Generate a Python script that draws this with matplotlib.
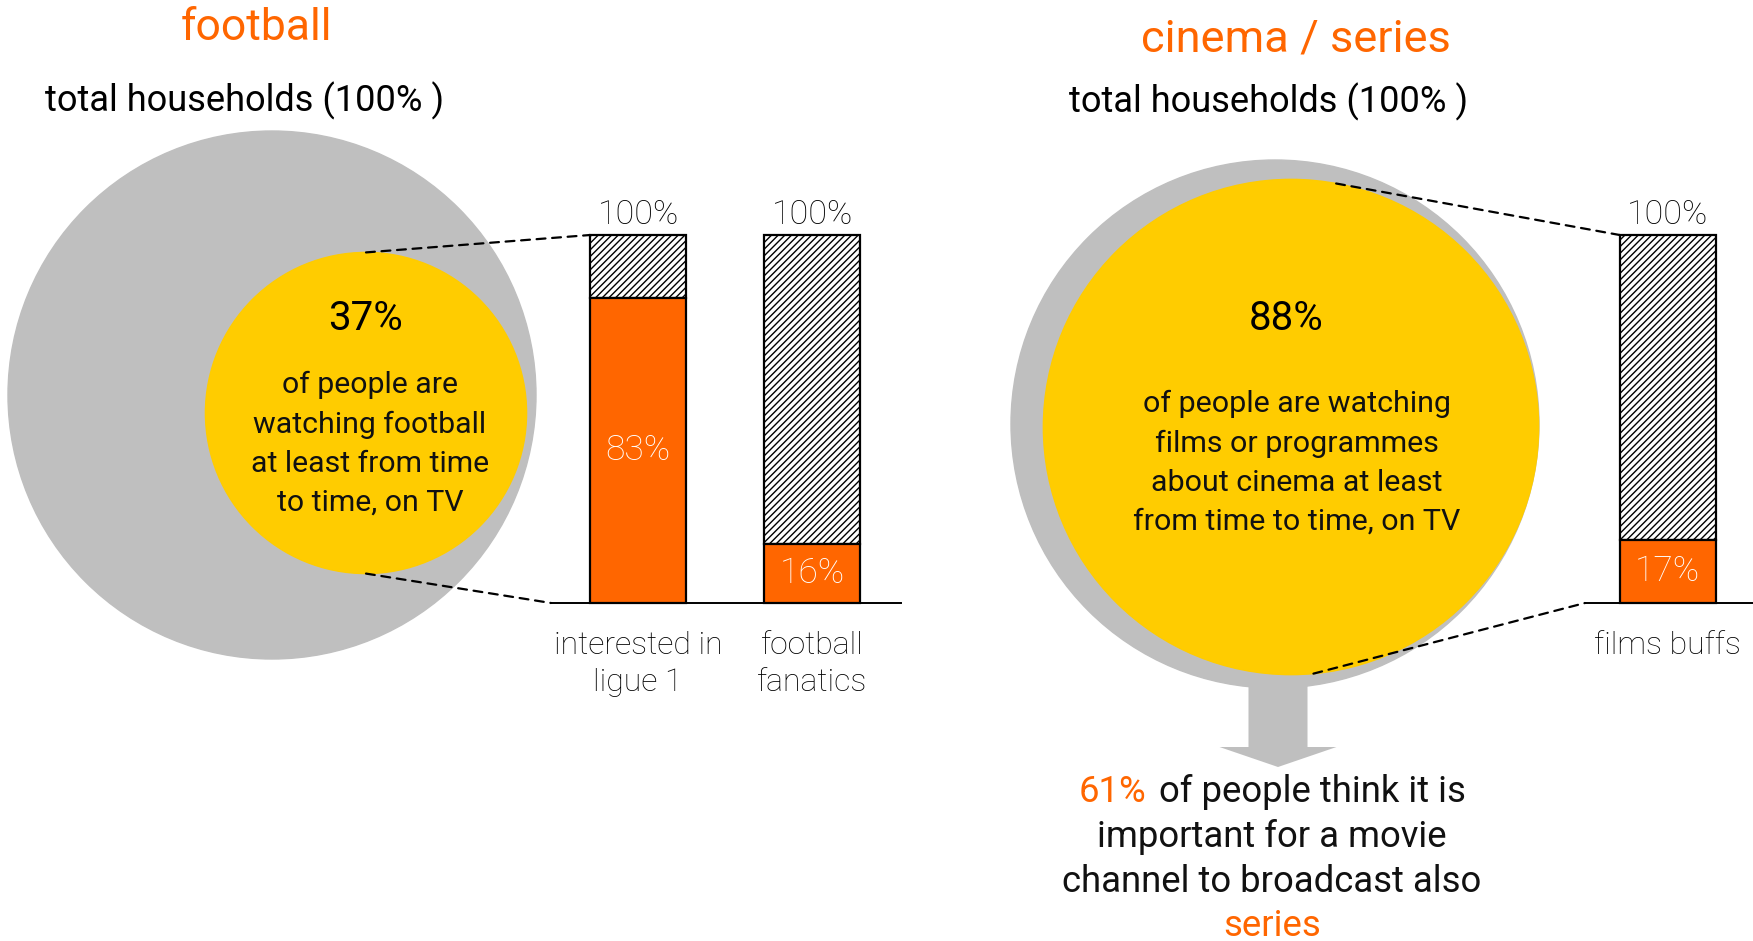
import matplotlib
matplotlib.use("Agg")
import numpy as np
import matplotlib.pyplot as plt
from matplotlib.patches import Circle, ConnectionPatch
from matplotlib.offsetbox import TextArea, HPacker, AnnotationBbox


# =========================
# Data
# =========================

watch_share = [37, 88]                 # % of households watching, football / cinema
football_labels = ["interested in\nligue 1", "football\nfanatics"]
football_share = [83, 16]
cinema_labels = ["films buffs"]
cinema_share = [17]
series_share = 61


# =========================
# Style
# =========================

ORANGE = "#FF6600"
YELLOW = "#FFCC00"
GREY = "#BFBFBF"
INK = "#111111"

plt.rcParams["font.family"] = ["Roboto", "DejaVu Sans"]
plt.rcParams["hatch.linewidth"] = 1.0
plt.rcParams["hatch.color"] = "#2a2a2a"

W, H = 1753, 941
fig = plt.figure(figsize=(W / 100, H / 100), dpi=100)
fig.patch.set_facecolor("white")

# pixel-space canvas for circles, arrow and free text
ax = fig.add_axes([0, 0, 1, 1])
ax.set_xlim(0, W)
ax.set_ylim(H, 0)
ax.axis("off")

R = 264  # radius of the "total households" disc


def bar_axes(left, right, base, top):
    bax = fig.add_axes([left / W, 1 - base / H, (right - left) / W, (base - top) / H])
    bax.set_ylim(0, 100)
    for side in ["top", "right", "left"]:
        bax.spines[side].set_visible(False)
    bax.spines["bottom"].set_linewidth(1.4)
    bax.set_xticks([])
    bax.set_yticks([])
    bax.patch.set_alpha(0)
    return bax


def draw_bars(bax, shares, labels):
    x = np.arange(len(shares))
    rest = [100 - s for s in shares]
    bax.bar(x, rest, 0.55, bottom=shares, color="white", hatch="/////",
            edgecolor="black", linewidth=1.6, clip_on=False, zorder=2)
    bax.bar(x, shares, 0.55, color=ORANGE, edgecolor="black",
            linewidth=1.6, clip_on=False, zorder=3)
    for xi, s, lab in zip(x, shares, labels):
        bax.annotate("100%", (xi, 100), xytext=(0, 3), textcoords="offset points",
                     ha="center", va="bottom", fontsize=24.5, fontweight="light",
                     color="black")
        bax.text(xi, s / 2, f"{s}%", ha="center", va="center", fontsize=25.5,
                 fontweight="light", color="white", zorder=4)
        bax.annotate(lab, (xi, 0), xytext=(0, -20), textcoords="offset points",
                     ha="center", va="top", fontsize=23, fontweight="light",
                     color="black", linespacing=1.35)
    return x


# =========================
# Football panel
# =========================

ax.text(256, 28, "football", ha="center", va="center", fontsize=32, color=ORANGE)
ax.text(245, 101, "total households (100% )", ha="center", va="center",
        fontsize=26.1, color="black")

ax.add_patch(Circle((272, 395), R, color=GREY, zorder=1))
r_foot = R * np.sqrt(watch_share[0] / 100)
foot_c = (366, 413)
ax.add_patch(Circle(foot_c, r_foot, color=YELLOW, zorder=2))

ax.text(foot_c[0], 318, f"{watch_share[0]}%", ha="center", va="center",
        fontsize=29, color="black", zorder=3)
ax.text(370, 444, "of people are\nwatching football\nat least from time\nto time, on TV",
        ha="center", va="center", fontsize=21.8, linespacing=1.5, color=INK, zorder=3)

bax1 = bar_axes(551, 901, 603, 235)
bax1.set_xlim(-0.5, 1.51)
x1 = draw_bars(bax1, football_share, football_labels)

# dashed zoom lines from the yellow disc to the bars
for xyA, xyB in [((foot_c[0], foot_c[1] - r_foot), (x1[0] - 0.275, 100)),
                 ((foot_c[0], foot_c[1] + r_foot), (-0.5, 0))]:
    fig.add_artist(ConnectionPatch(xyA, xyB, coordsA=ax.transData, coordsB=bax1.transData,
                                   linestyle=(0, (4, 3)), linewidth=1.6, color="black",
                                   zorder=5))


# =========================
# Cinema / series panel
# =========================

ax.text(1296, 39, "cinema / series", ha="center", va="center", fontsize=32.6, color=ORANGE)
ax.text(1269, 102, "total households (100% )", ha="center", va="center",
        fontsize=26.1, color="black")

grey_c = (1275, 424)
ax.add_patch(Circle(grey_c, R, color=GREY, zorder=1))
r_cin = R * np.sqrt(watch_share[1] / 100)
cin_c = (1291, 427)
ax.add_patch(Circle(cin_c, r_cin, color=YELLOW, zorder=2))

# arrow down to the series statement
ax.arrow(1278, 660, 0, 767 - 660, width=59, head_width=117, head_length=20,
         length_includes_head=True, color=GREY, linewidth=0, zorder=0)

ax.text(1286, 318, f"{watch_share[1]}%", ha="center", va="center",
        fontsize=29, color="black", zorder=3)
ax.text(1297, 463, "of people are watching\nfilms or programmes\nabout cinema at least\nfrom time to time, on TV",
        ha="center", va="center", fontsize=21.9, linespacing=1.5, color=INK, zorder=3)

bax2 = bar_axes(1585, 1753, 603, 235)
bax2.set_xlim(-0.474, 0.49)
x2 = draw_bars(bax2, cinema_share, cinema_labels)

a_top, a_bot = np.radians(10.5), np.radians(174.8)
for a, xyB in [(a_top, (x2[0] - 0.275, 100)), (a_bot, (-0.474, 0))]:
    p = (cin_c[0] + r_cin * np.sin(a), cin_c[1] - r_cin * np.cos(a))
    fig.add_artist(ConnectionPatch(p, xyB, coordsA=ax.transData, coordsB=bax2.transData,
                                   linestyle=(0, (4, 3)), linewidth=1.6, color="black",
                                   zorder=5))

# statement under the arrow, first line mixes colours
line1 = HPacker(children=[
    TextArea(f"{series_share}%", textprops=dict(color=ORANGE, fontsize=26.3)),
    TextArea("of people think it is", textprops=dict(color=INK, fontsize=26.3)),
], sep=9, pad=0, align="baseline")
ax.add_artist(AnnotationBbox(line1, (1272, 792), frameon=False, box_alignment=(0.5, 0.5)))
ax.text(1272, 837, "important for a movie", ha="center", va="center", fontsize=26.3, color=INK)
ax.text(1272, 882, "channel to broadcast also", ha="center", va="center", fontsize=26.3, color=INK)
ax.text(1272, 926, "series", ha="center", va="center", fontsize=26.3, color=ORANGE)


# =========================
# Save
# =========================

fig.savefig("out.png", dpi=100, facecolor="white")
